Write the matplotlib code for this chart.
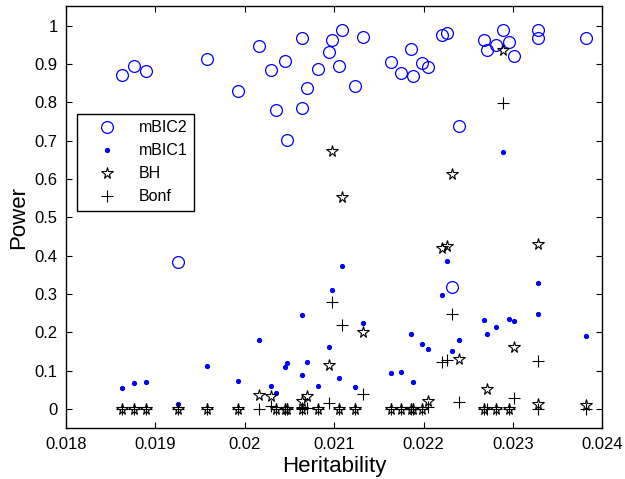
import matplotlib
matplotlib.use('Agg')
import matplotlib.pyplot as plt
import numpy as np

# ======================================
# DATA
heritability = [0.018624, 0.018761, 0.018899, 0.019258, 0.019576, 0.019923,
                0.020158, 0.020292, 0.020352, 0.020445, 0.020475, 0.020643,
                0.020643, 0.020695, 0.020818, 0.020945, 0.020975, 0.021057,
                0.021083, 0.021233, 0.021318, 0.021636, 0.021748, 0.021856,
                0.021886, 0.021983, 0.022054, 0.022203, 0.022259, 0.022315,
                0.022398, 0.022674, 0.022715, 0.022813, 0.022894, 0.022953,
                0.023017, 0.023286, 0.023286, 0.023823]
mbic2 = [0.872, 0.894, 0.881, 0.383, 0.913, 0.830, 0.946, 0.885, 0.781, 0.907,
         0.701, 0.968, 0.785, 0.836, 0.887, 0.932, 0.961, 0.894, 0.987, 0.843,
         0.971, 0.904, 0.876, 0.939, 0.868, 0.901, 0.891, 0.975, 0.980, 0.318,
         0.739, 0.961, 0.936, 0.949, 0.987, 0.958, 0.920, 0.987, 0.968, 0.968]
mbic1 = [0.055, 0.068, 0.071, 0.013, 0.113, 0.074, 0.180, 0.061, 0.042, 0.109,
         0.120, 0.245, 0.090, 0.122, 0.061, 0.161, 0.310, 0.081, 0.374, 0.059,
         0.225, 0.094, 0.097, 0.197, 0.071, 0.171, 0.158, 0.297, 0.386, 0.152,
         0.180, 0.232, 0.197, 0.213, 0.669, 0.235, 0.229, 0.328, 0.248, 0.190]
bh = [0, 0, 0, 0, 0, 0, 0.037, 0.033, 0, 0,
      0, 0.022, 0, 0.033, 0, 0.114, 0.673, 0, 0.553, 0,
      0.200, 0, 0, 0, 0, 0, 0.020, 0.419, 0.426, 0.613,
      0.130, 0, 0.053, 0, 0.937, 0, 0.163, 0.430, 0.014, 0.010]
bonf = [0, 0, 0, 0, 0, 0, 0, 0.008, 0, 0,
        0, 0.004, 0, 0.004, 0, 0.017, 0.280, 0, 0.219, 0,
        0.039, 0, 0, 0, 0, 0, 0.005, 0.122, 0.128, 0.247,
        0.018, 0, 0, 0, 0.797, 0, 0.029, 0.126, 0, 0]

xticks = [0.018, 0.019, 0.020, 0.021, 0.022, 0.023, 0.024]
xticklabels = ['0.018', '0.019', '0.02', '0.021', '0.022', '0.023', '0.024']
yticks = [0, 0.1, 0.2, 0.3, 0.4, 0.5, 0.6, 0.7, 0.8, 0.9, 1.0]
yticklabels = ['0', '0.1', '0.2', '0.3', '0.4', '0.5', '0.6', '0.7', '0.8', '0.9', '1']

# ======================================
# PLOT
plt.rcParams['font.family'] = ['Liberation Sans', 'DejaVu Sans']
fig = plt.figure(figsize=(6.25, 4.79), dpi=100)
ax = fig.add_axes([0.1056, 0.1058, 0.8581, 0.881])

ax.plot(heritability, mbic2, 'o', ms=8.5, mfc='none', mec='#0000ff', mew=0.9, label='mBIC2')
ax.plot(heritability, mbic1, '.', ms=5.5, color='#0000ff', label='mBIC1')
ax.plot(heritability, bh, '*', ms=8.5, mfc='none', mec='k', mew=0.8, label='BH')
ax.plot(heritability, bonf, '+', ms=8, color='k', mew=0.8, label='Bonf')

ax.set_xlim(0.018, 0.024)
ax.set_ylim(-0.05, 1.05)
ax.set_xticks(xticks)
ax.set_xticklabels(xticklabels)
ax.set_yticks(yticks)
ax.set_yticklabels(yticklabels)
ax.tick_params(direction='in', top=True, right=True, length=4, width=0.8, labelsize=12, pad=6)
for s in ax.spines.values():
    s.set_linewidth(1.0)

ax.set_xlabel('Heritability', fontsize=16, labelpad=3)
ax.set_ylabel('Power', fontsize=16, labelpad=4)

leg = ax.legend(loc='upper left', bbox_to_anchor=(0.02, 0.745), borderaxespad=0,
                fontsize=11.5, fancybox=False, edgecolor='k', framealpha=1,
                handlelength=3.0, handletextpad=0.5, borderpad=0.4, labelspacing=0.5,
                numpoints=1)
leg.get_frame().set_linewidth(1.0)

fig.savefig('out.png', dpi=100)
